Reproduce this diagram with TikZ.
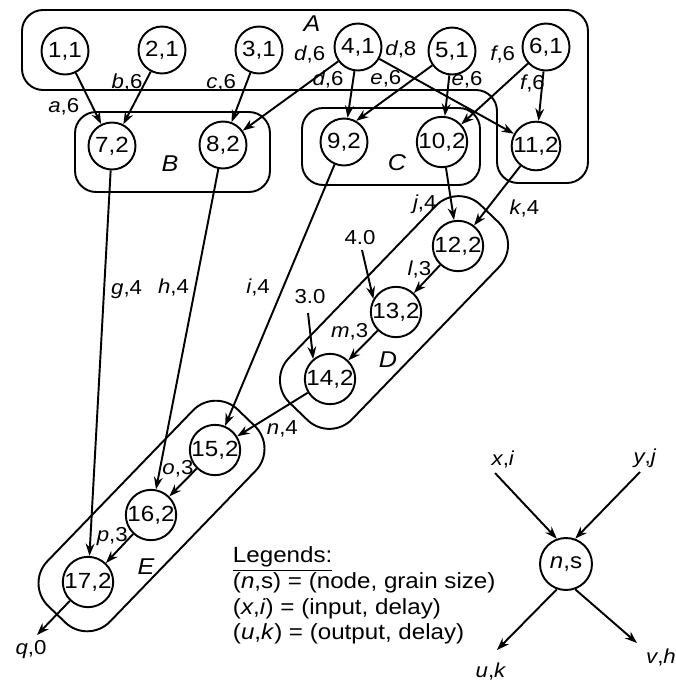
\documentclass[tikz,border=0pt]{standalone}
\usepackage{fontspec}
\setmainfont[FakeStretch=1.1]{Liberation Sans}
\usetikzlibrary{arrows.meta}

\begin{document}
\begin{tikzpicture}[x=0.02cm,y=-0.02cm,>={Stealth[length=7pt,width=5pt]},line width=1.1pt,
        task/.style={circle,draw,minimum size=0.94cm,inner sep=0pt,font=\fontsize{12.5}{12.5}\selectfont},
        grp/.style={draw,rounded corners=12pt},
        grpname/.style={font=\fontsize{13}{13}\selectfont\itshape},
        lbl/.style={inner sep=1pt,font=\fontsize{11.5}{11.5}\selectfont}]

        \useasboundingbox (0,0) rectangle (676,684);

        % packing groups
        \draw[grp] (22,10) -- (588,10) -- (588,183) -- (497,183) -- (497,90) -- (22,90) -- cycle;
        \node[grp,minimum width=3.9cm,minimum height=1.6cm] (B) at (172.5,152) {};
        \node[grp,minimum width=3.56cm,minimum height=1.54cm] (C) at (391,146.5) {};
        \node[grp,rounded corners=18pt,rotate=46,minimum width=5.5cm,minimum height=1.76cm] (D) at (394,312.5) {};
        \node[grp,rounded corners=18pt,rotate=46,minimum width=5.46cm,minimum height=1.74cm] (E) at (151.5,516) {};

        \node[grpname] (LA) at (312,24) {A};
        \node[grpname] (LB) at (170,164) {B};
        \node[grpname] (LC) at (397,163) {C};
        \node[grpname] (LD) at (388,360) {D};
        \node[grpname] (LE) at (146,567) {E};

        % tasks
        \node[task] (N1) at (65,51) {1,1};
        \node[task] (N2) at (162,50) {2,1};
        \node[task] (N3) at (259,50) {3,1};
        \node[task] (N4) at (358,47) {4,1};
        \node[task] (N5) at (452,51) {5,1};
        \node[task] (N6) at (546,47) {6,1};
        \node[task] (N7) at (112,146) {7,2};
        \node[task] (N8) at (223,145) {8,2};
        \node[task] (N9) at (344,142) {9,2};
        \node[task] (N10) at (442,142) {10,2};
        \node[task] (N11) at (536,146) {11,2};
        \node[task] (N12) at (458,246) {12,2};
        \node[task] (N13) at (396,312) {13,2};
        \node[task] (N14) at (330,379) {14,2};
        \node[task] (N15) at (215,450) {15,2};
        \node[task] (N16) at (151,515) {16,2};
        \node[task] (N17) at (88,582) {17,2};

        \draw[->] (N1) -- node[lbl,pos=0.66,left=6pt] {\textit{a},6} (N7);
        \draw[->] (N2) -- node[lbl,pos=0.2,left=0pt] {\textit{b},6} (N7);
        \draw[->] (N3) -- node[lbl,pos=0.2,left=4.5pt] {\textit{c},6} (N8);
        \draw[->] (N4) -- node[lbl,pos=0.09,above left=1pt] {\textit{d},6} (N8);
        \draw[->] (N4) -- node[lbl,pos=0.18,left=4pt] {\textit{d},6} (N9);
        \draw[->] (N4) -- node[lbl,pos=0.16,above=6pt] {\textit{d},8} (N11);
        \draw[->] (N5) -- node[lbl,pos=0.61,above=5.5pt] {\textit{e},6} (N9.60);
        \draw[->] (N5) -- node[lbl,pos=0.1,right=0pt] {\textit{e},6} (N10);
        \draw[->] (N6) -- node[lbl,pos=0.1,above left=2pt] {\textit{f},6} (N10);
        \draw[->] (N6) -- node[lbl,pos=0.25,left=-3pt] {\textit{f},6} (N11);

        \draw[->] (N7) -- node[lbl,pos=0.31,right=2.5pt] {\textit{g},4} (N17);
        \draw[->] (N8) -- node[lbl,pos=0.37,left=2pt] {\textit{h},4} (N16);
        \draw[->] (N9) -- node[lbl,pos=0.47,left=6pt] {\textit{i},4} (N15);
        \draw[->] (N10) -- node[lbl,pos=0.69,left=7pt] {\textit{j},4} (N12);
        \draw[->] (N11) -- node[lbl,pos=0.71,right=11pt] {\textit{k},4} (N12);
        \draw[->] (N12) -- node[lbl,pos=0.17,left=1pt] {\textit{l},3} (N13);
        \draw[->] (N13) -- node[lbl,pos=0.05,left=3pt] {\textit{m},3} (N14);
        \draw[->] (N14) -- node[lbl,pos=0.36,below=5.5pt] {\textit{n},4} (N15);
        \draw[->] (N15) -- node[lbl,pos=0.02,left=0pt] {\textit{o},3} (N16);
        \draw[->] (N16) -- node[lbl,pos=0.1,left=0pt] {\textit{p},3} (N17);

        % outside inputs and output
        \node[lbl] (I13) at (360,238) {4.0};
        \node[lbl] (I14) at (310,297) {3.0};
        \node[lbl] (Q) at (31,650) {\textit{q},0};
        \coordinate (in13) at (362,250);
        \coordinate (in14) at (308,313);
        \coordinate (out17) at (37,635);
        \draw[->] (in13) -- (N13.150);
        \draw[->] (in14) -- (N14.130);
        \draw[->] (N17) -- (out17);

        % legend
        \node[anchor=north west,align=left,inner sep=0pt,font=\fontsize{12.5}{14.6}\selectfont] (LEG) at (232,546)
            {\underline{Legends:}\\(\textit{n},s) = (node, grain size)\\(\textit{x},\textit{i}) = (input, delay)\\(\textit{u},\textit{k}) = (output, delay)};

        \node[task,minimum size=1.04cm] (NS) at (566,564) {\textit{n},s};
        \node[lbl] (X) at (503,459) {\textit{x},\textit{i}};
        \node[lbl] (Y) at (645,458) {\textit{y},\textit{j}};
        \node[lbl] (U) at (491,671) {\textit{u},\textit{k}};
        \node[lbl] (V) at (661,657) {\textit{v},\textit{h}};
        \coordinate (xin) at (495,473);
        \coordinate (yin) at (640,472);
        \coordinate (uout) at (497,650);
        \coordinate (vout) at (637,643);
        \draw[->] (xin) -- (NS.110);
        \draw[->] (yin) -- (NS.70);
        \draw[->] (NS.250) -- (uout);
        \draw[->] (NS.290) -- (vout);

\end{tikzpicture}
\end{document}
